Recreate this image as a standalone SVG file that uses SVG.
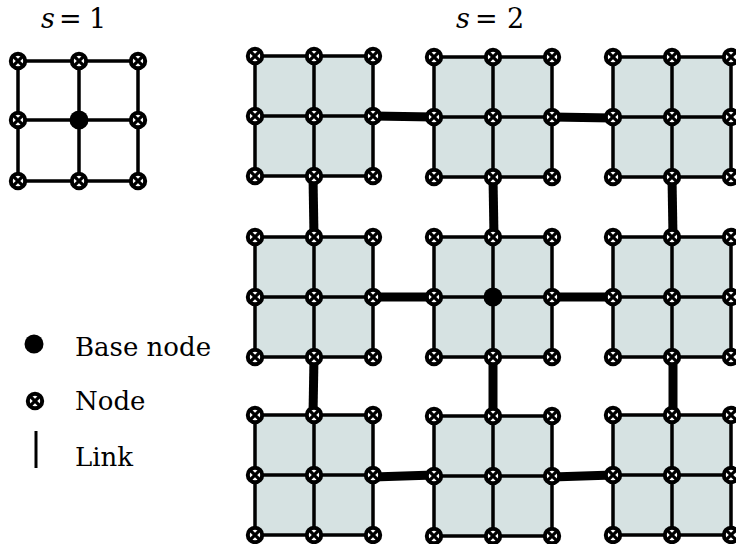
<svg xmlns="http://www.w3.org/2000/svg" xmlns:xlink="http://www.w3.org/1999/xlink" width="736" height="544" viewBox="0 0 736 544">
  <style>
    .grid { stroke: #000; stroke-width: 3.5; fill: none; stroke-linecap: round; }
    .cell { fill: #d6e2e2; }
    .link { stroke: #000; stroke-width: 9; fill: none; }
    .label { font-family: "DejaVu Serif", "Liberation Serif", serif; font-size: 26px; fill: #000; }
    .math { font-family: "DejaVu Serif", "Liberation Serif", serif; font-size: 27px; fill: #000; }
  </style>
  <defs>
    <!-- crossed-circle node -->
    <g id="nd">
      <circle r="7.2" fill="#fff" stroke="#000" stroke-width="4"/>
      <path d="M-4.4,-4.4L4.4,4.4M4.4,-4.4L-4.4,4.4" stroke="#000" stroke-width="3.2"/>
    </g>
    <!-- one 3x3 block: shaded square + grid lines, origin at its top-left node -->
    <g id="blk">
      <rect class="cell" x="0" y="0" width="118" height="120"/>
      <path class="grid" d="M0,0H118M0,60H118M0,120H118M0,0V120M59,0V120M118,0V120"/>
    </g>
  </defs>

  <!-- titles -->
  <text class="math" y="28"><tspan x="41" font-style="italic">s</tspan><tspan x="59">=</tspan><tspan x="89">1</tspan></text>
  <text class="math" y="28"><tspan x="456" font-style="italic">s</tspan><tspan x="475">=</tspan><tspan x="507">2</tspan></text>

  <!-- s = 1 grid -->
  <g id="s1-grid">
    <path class="grid" d="M18,61H138M18,120H138M18,181H138M18,61V181M79,61V181M138,61V181"/>
  </g>
  <g id="s1-n11"><use xlink:href="#nd" x="18" y="61"/></g>
  <g id="s1-n12"><use xlink:href="#nd" x="79" y="61"/></g>
  <g id="s1-n13"><use xlink:href="#nd" x="138" y="61"/></g>
  <g id="s1-n21"><use xlink:href="#nd" x="18" y="120"/></g>
  <g id="s1-base"><circle cx="79" cy="120" r="9.5" fill="#000"/></g>
  <g id="s1-n23"><use xlink:href="#nd" x="138" y="120"/></g>
  <g id="s1-n31"><use xlink:href="#nd" x="18" y="181"/></g>
  <g id="s1-n32"><use xlink:href="#nd" x="79" y="181"/></g>
  <g id="s1-n33"><use xlink:href="#nd" x="138" y="181"/></g>

  <!-- s = 2 blocks -->
  <g id="blocks">
    <use xlink:href="#blk" x="255" y="56"/>
    <use xlink:href="#blk" x="434" y="57"/>
    <use xlink:href="#blk" x="613" y="57"/>
    <use xlink:href="#blk" x="255" y="237"/>
    <use xlink:href="#blk" x="434" y="237"/>
    <use xlink:href="#blk" x="613" y="237"/>
    <use xlink:href="#blk" x="255" y="415"/>
    <use xlink:href="#blk" x="434" y="416"/>
    <use xlink:href="#blk" x="613" y="415"/>
  </g>

  <!-- links between blocks -->
  <g id="connectors">
    <line class="link" x1="373" y1="116" x2="434" y2="117"/>
    <line class="link" x1="552" y1="117" x2="613" y2="118"/>
    <line class="link" x1="373" y1="297" x2="434" y2="297"/>
    <line class="link" x1="552" y1="297" x2="613" y2="297"/>
    <line class="link" x1="373" y1="477" x2="434" y2="475"/>
    <line class="link" x1="552" y1="477" x2="613" y2="475"/>
    <line class="link" x1="313" y1="176" x2="314" y2="237"/>
    <line class="link" x1="493" y1="177" x2="494" y2="237"/>
    <line class="link" x1="672" y1="177" x2="673" y2="237"/>
    <line class="link" x1="314" y1="357" x2="313" y2="415"/>
    <line class="link" x1="493" y1="357" x2="493" y2="416"/>
    <line class="link" x1="673" y1="357" x2="673" y2="415"/>
  </g>

  <!-- block nodes -->
  <g id="b11-n11"><use xlink:href="#nd" x="255" y="56"/></g>
  <g id="b11-n12"><use xlink:href="#nd" x="314" y="56"/></g>
  <g id="b11-n13"><use xlink:href="#nd" x="373" y="56"/></g>
  <g id="b11-n21"><use xlink:href="#nd" x="255" y="116"/></g>
  <g id="b11-n22"><use xlink:href="#nd" x="314" y="116"/></g>
  <g id="b11-n23"><use xlink:href="#nd" x="373" y="116"/></g>
  <g id="b11-n31"><use xlink:href="#nd" x="255" y="176"/></g>
  <g id="b11-n32"><use xlink:href="#nd" x="314" y="176"/></g>
  <g id="b11-n33"><use xlink:href="#nd" x="373" y="176"/></g>

  <g id="b12-n11"><use xlink:href="#nd" x="434" y="57"/></g>
  <g id="b12-n12"><use xlink:href="#nd" x="493" y="57"/></g>
  <g id="b12-n13"><use xlink:href="#nd" x="552" y="57"/></g>
  <g id="b12-n21"><use xlink:href="#nd" x="434" y="117"/></g>
  <g id="b12-n22"><use xlink:href="#nd" x="493" y="117"/></g>
  <g id="b12-n23"><use xlink:href="#nd" x="552" y="117"/></g>
  <g id="b12-n31"><use xlink:href="#nd" x="434" y="177"/></g>
  <g id="b12-n32"><use xlink:href="#nd" x="493" y="177"/></g>
  <g id="b12-n33"><use xlink:href="#nd" x="552" y="177"/></g>

  <g id="b13-n11"><use xlink:href="#nd" x="613" y="57"/></g>
  <g id="b13-n12"><use xlink:href="#nd" x="672" y="57"/></g>
  <g id="b13-n13"><use xlink:href="#nd" x="731" y="57"/></g>
  <g id="b13-n21"><use xlink:href="#nd" x="613" y="117"/></g>
  <g id="b13-n22"><use xlink:href="#nd" x="672" y="117"/></g>
  <g id="b13-n23"><use xlink:href="#nd" x="731" y="117"/></g>
  <g id="b13-n31"><use xlink:href="#nd" x="613" y="177"/></g>
  <g id="b13-n32"><use xlink:href="#nd" x="672" y="177"/></g>
  <g id="b13-n33"><use xlink:href="#nd" x="731" y="177"/></g>

  <g id="b21-n11"><use xlink:href="#nd" x="255" y="237"/></g>
  <g id="b21-n12"><use xlink:href="#nd" x="314" y="237"/></g>
  <g id="b21-n13"><use xlink:href="#nd" x="373" y="237"/></g>
  <g id="b21-n21"><use xlink:href="#nd" x="255" y="297"/></g>
  <g id="b21-n22"><use xlink:href="#nd" x="314" y="297"/></g>
  <g id="b21-n23"><use xlink:href="#nd" x="373" y="297"/></g>
  <g id="b21-n31"><use xlink:href="#nd" x="255" y="357"/></g>
  <g id="b21-n32"><use xlink:href="#nd" x="314" y="357"/></g>
  <g id="b21-n33"><use xlink:href="#nd" x="373" y="357"/></g>

  <g id="b22-n11"><use xlink:href="#nd" x="434" y="237"/></g>
  <g id="b22-n12"><use xlink:href="#nd" x="493" y="237"/></g>
  <g id="b22-n13"><use xlink:href="#nd" x="552" y="237"/></g>
  <g id="b22-n21"><use xlink:href="#nd" x="434" y="297"/></g>
  <g id="b22-base"><circle cx="493" cy="297" r="9.5" fill="#000"/></g>
  <g id="b22-n23"><use xlink:href="#nd" x="552" y="297"/></g>
  <g id="b22-n31"><use xlink:href="#nd" x="434" y="357"/></g>
  <g id="b22-n32"><use xlink:href="#nd" x="493" y="357"/></g>
  <g id="b22-n33"><use xlink:href="#nd" x="552" y="357"/></g>

  <g id="b23-n11"><use xlink:href="#nd" x="613" y="237"/></g>
  <g id="b23-n12"><use xlink:href="#nd" x="672" y="237"/></g>
  <g id="b23-n13"><use xlink:href="#nd" x="731" y="237"/></g>
  <g id="b23-n21"><use xlink:href="#nd" x="613" y="297"/></g>
  <g id="b23-n22"><use xlink:href="#nd" x="672" y="297"/></g>
  <g id="b23-n23"><use xlink:href="#nd" x="731" y="297"/></g>
  <g id="b23-n31"><use xlink:href="#nd" x="613" y="357"/></g>
  <g id="b23-n32"><use xlink:href="#nd" x="672" y="357"/></g>
  <g id="b23-n33"><use xlink:href="#nd" x="731" y="357"/></g>

  <g id="b31-n11"><use xlink:href="#nd" x="255" y="415"/></g>
  <g id="b31-n12"><use xlink:href="#nd" x="314" y="415"/></g>
  <g id="b31-n13"><use xlink:href="#nd" x="373" y="415"/></g>
  <g id="b31-n21"><use xlink:href="#nd" x="255" y="475"/></g>
  <g id="b31-n22"><use xlink:href="#nd" x="314" y="475"/></g>
  <g id="b31-n23"><use xlink:href="#nd" x="373" y="475"/></g>
  <g id="b31-n31"><use xlink:href="#nd" x="255" y="535"/></g>
  <g id="b31-n32"><use xlink:href="#nd" x="314" y="535"/></g>
  <g id="b31-n33"><use xlink:href="#nd" x="373" y="535"/></g>

  <g id="b32-n11"><use xlink:href="#nd" x="434" y="416"/></g>
  <g id="b32-n12"><use xlink:href="#nd" x="493" y="416"/></g>
  <g id="b32-n13"><use xlink:href="#nd" x="552" y="416"/></g>
  <g id="b32-n21"><use xlink:href="#nd" x="434" y="476"/></g>
  <g id="b32-n22"><use xlink:href="#nd" x="493" y="476"/></g>
  <g id="b32-n23"><use xlink:href="#nd" x="552" y="476"/></g>
  <g id="b32-n31"><use xlink:href="#nd" x="434" y="536"/></g>
  <g id="b32-n32"><use xlink:href="#nd" x="493" y="536"/></g>
  <g id="b32-n33"><use xlink:href="#nd" x="552" y="536"/></g>

  <g id="b33-n11"><use xlink:href="#nd" x="613" y="415"/></g>
  <g id="b33-n12"><use xlink:href="#nd" x="672" y="415"/></g>
  <g id="b33-n13"><use xlink:href="#nd" x="731" y="415"/></g>
  <g id="b33-n21"><use xlink:href="#nd" x="613" y="475"/></g>
  <g id="b33-n22"><use xlink:href="#nd" x="672" y="475"/></g>
  <g id="b33-n23"><use xlink:href="#nd" x="731" y="475"/></g>
  <g id="b33-n31"><use xlink:href="#nd" x="613" y="535"/></g>
  <g id="b33-n32"><use xlink:href="#nd" x="672" y="535"/></g>
  <g id="b33-n33"><use xlink:href="#nd" x="731" y="535"/></g>

  <!-- legend -->
  <g id="legend">
    <circle cx="34" cy="344" r="9.5" fill="#000"/>
    <text class="label" x="75" y="356">Base node</text>
    <use xlink:href="#nd" x="35" y="401"/>
    <text class="label" x="75" y="410">Node</text>
    <line x1="36" y1="431" x2="36" y2="468" stroke="#000" stroke-width="3"/>
    <text class="label" x="75" y="466">Link</text>
  </g>
</svg>
